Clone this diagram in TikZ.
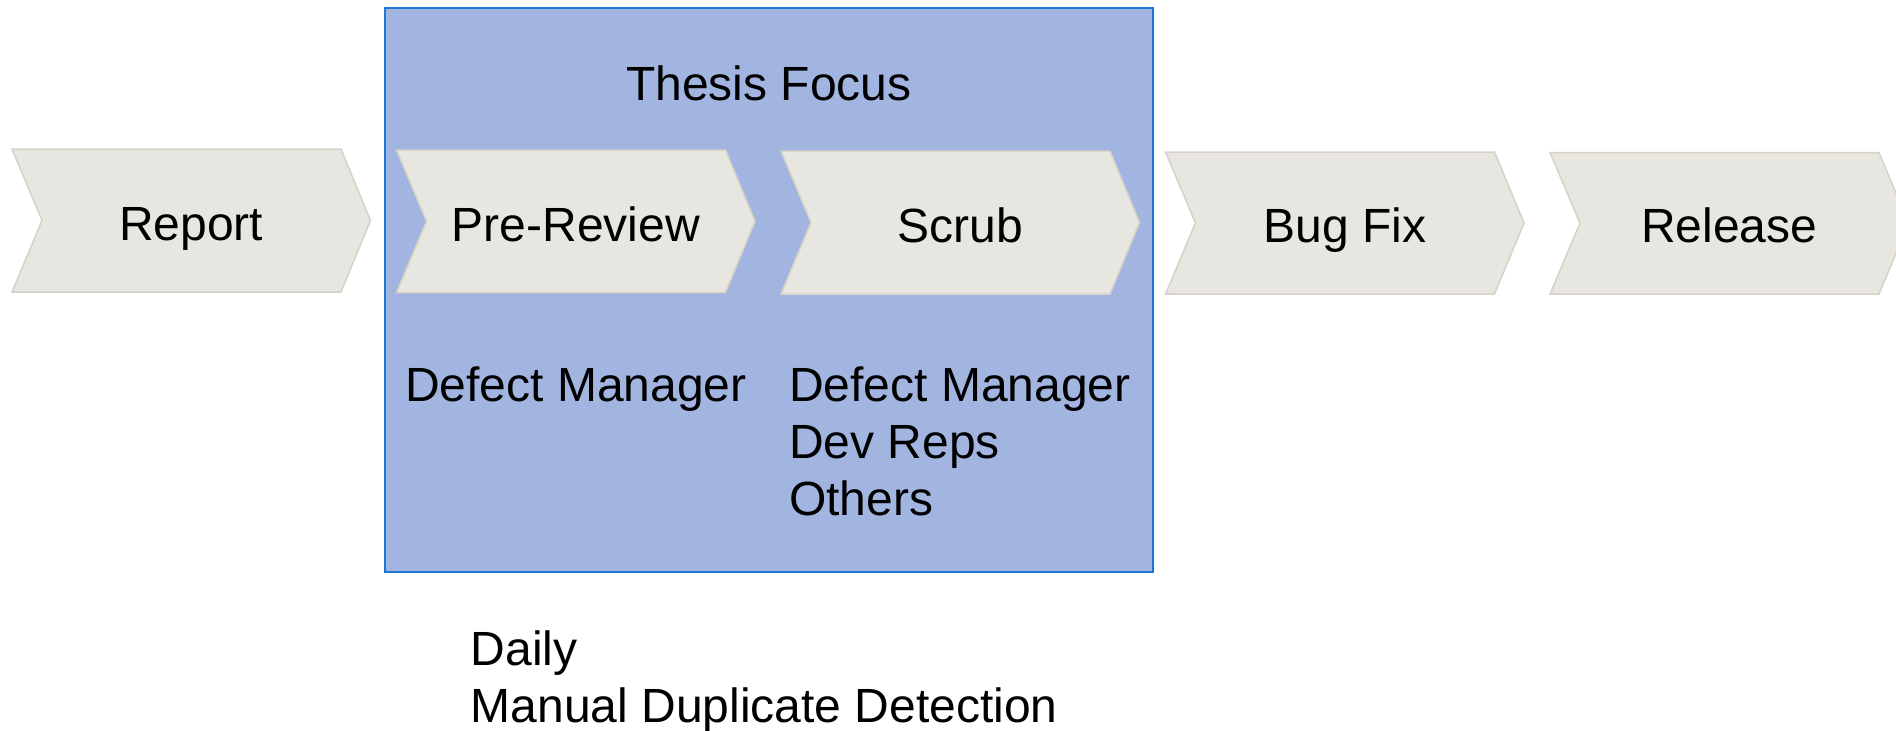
\documentclass[tikz,border=0pt]{standalone}
\usepackage{fontspec}
\setmainfont{Liberation Sans}
\definecolor{chevfill}{RGB}{231,230,224}
\definecolor{chevdraw}{RGB}{214,211,198}
\definecolor{focusfill}{RGB}{162,181,225}
\definecolor{focusdraw}{RGB}{28,118,212}
\tikzset{
  chevshape/.style={fill=chevfill, draw=chevdraw, line width=1.5pt, line join=miter},
  lbl/.style={inner sep=0pt, font=\fontsize{48}{57}\selectfont, text=black},
  focusbox/.style={fill=focusfill, draw=focusdraw, line width=2pt}
}
\begin{document}
\begin{tikzpicture}[x=1pt,y=-1pt]
\useasboundingbox (0,0) rectangle (1896,731);
% focus box
\draw[focusbox] (385,8) rectangle (1152.5,571.5);
\node[lbl, anchor=base] (focus) at (769,100) {Thesis Focus};
% chevrons: left x, top, bottom, name, text, baseline
\foreach \L/\T/\B/\nm/\txt/\bl in {12/149/292/report/Report/240,
                                   396.5/150/292.5/prereview/Pre-Review/241,
                                   781/151/294/scrub/Scrub/242,
                                   1165.5/152/294/bugfix/Bug Fix/242,
                                   1550/152.5/294/release/Release/242.5}{
  \pgfmathsetmacro{\M}{(\T+\B)/2}
  \pgfmathsetmacro{\R}{\L+329}
  \pgfmathsetmacro{\Tip}{\L+358.5}
  \pgfmathsetmacro{\N}{\L+30}
  \pgfmathsetmacro{\C}{\L+179.25}
  \draw[chevshape] (\L,\T) -- (\R,\T) -- (\Tip,\M) -- (\R,\B) -- (\L,\B) -- (\N,\M) -- cycle;
  \node[lbl, anchor=base] (\nm) at (\C,\bl) {\txt};
}
% role lists
\node[lbl, anchor=base west] (pre1) at (405,401.5) {Defect Manager};
\node[lbl, anchor=base west] (scr1) at (789,401.5) {Defect Manager};
\node[lbl, anchor=base west] (scr2) at (789,458) {Dev Reps};
\node[lbl, anchor=base west] (scr3) at (789,515) {Others};
% bottom notes
\node[lbl, anchor=base west] (daily) at (470.5,665) {Daily};
\node[lbl, anchor=base west] (manual) at (470.5,722) {Manual Duplicate Detection};
\end{tikzpicture}
\end{document}
